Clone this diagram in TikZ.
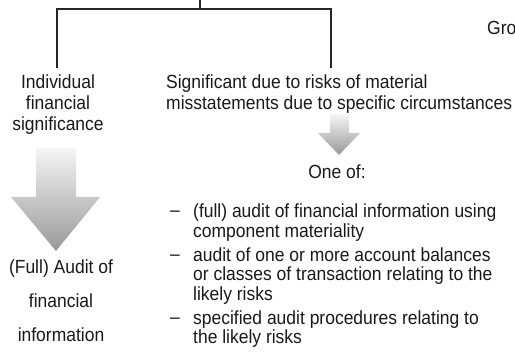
\documentclass[tikz,border=0pt]{standalone}
\usepackage{fontspec}
\setmainfont[FakeStretch=0.92]{Liberation Sans}
\begin{document}
\begin{tikzpicture}[x=1pt,y=-1pt,
  tree/.style={line width=1.2pt, draw=black!85},
  txt/.style={inner sep=0pt, text=black!90},
  leadA/.style={txt, font=\fontsize{19}{21}\selectfont},
  leadB/.style={txt, font=\fontsize{19}{19.5}\selectfont},
  leadC/.style={txt, font=\fontsize{19}{34}\selectfont},
  blockarrow/.style={top color=gray!8, bottom color=gray!80, draw=none}]
\useasboundingbox (0,0) rectangle (515,363);

% tree lines from the group box above
\coordinate (root) at (200,0);
\coordinate (fork) at (200,9);
\coordinate (legL) at (57,68);
\coordinate (legR) at (331,68);
\draw[tree] (root) -- (fork);
\draw[tree] (legL) |- (fork) -| (legR);

\node[leadA, anchor=north west] (gro) at (487,21) {Gro};

% left branch
\node[leadA, anchor=north, align=center] (ind) at (58,75)
  {Individual\\financial\\significance};
\shade[blockarrow] (36,148) -- (76,148) -- (76,197) -- (100,197)
  -- (56,251) -- (11,197) -- (36,197) -- cycle;
\node[leadC, anchor=north, align=center] (full) at (61,260)
  {(Full) Audit of\\financial\\information};

% right branch
\node[leadA, anchor=north west, align=left] (sig) at (166,75)
  {Significant due to risks of material\\misstatements due to specific circumstances};
\shade[blockarrow] (330,114) -- (349,114) -- (349,133) -- (360,133)
  -- (339,155) -- (318,133) -- (330,133) -- cycle;
\node[leadA, anchor=north] (oneof) at (337,165) {One of:};

\node[leadB, anchor=base west] (d1) at (170,217) {–};
\node[leadB, anchor=north west, align=left] (o1) at (193,204)
  {(full) audit of financial information using\\component materiality};
\node[leadB, anchor=base west] (d2) at (170,260.5) {–};
\node[leadB, anchor=north west, align=left] (o2) at (193,247.5)
  {audit of one or more account balances\\or classes of transaction relating to the\\likely risks};
\node[leadB, anchor=base west] (d3) at (170,323.5) {–};
\node[leadB, anchor=north west, align=left] (o3) at (193,310.5)
  {specified audit procedures relating to\\the likely risks};
\end{tikzpicture}
\end{document}
